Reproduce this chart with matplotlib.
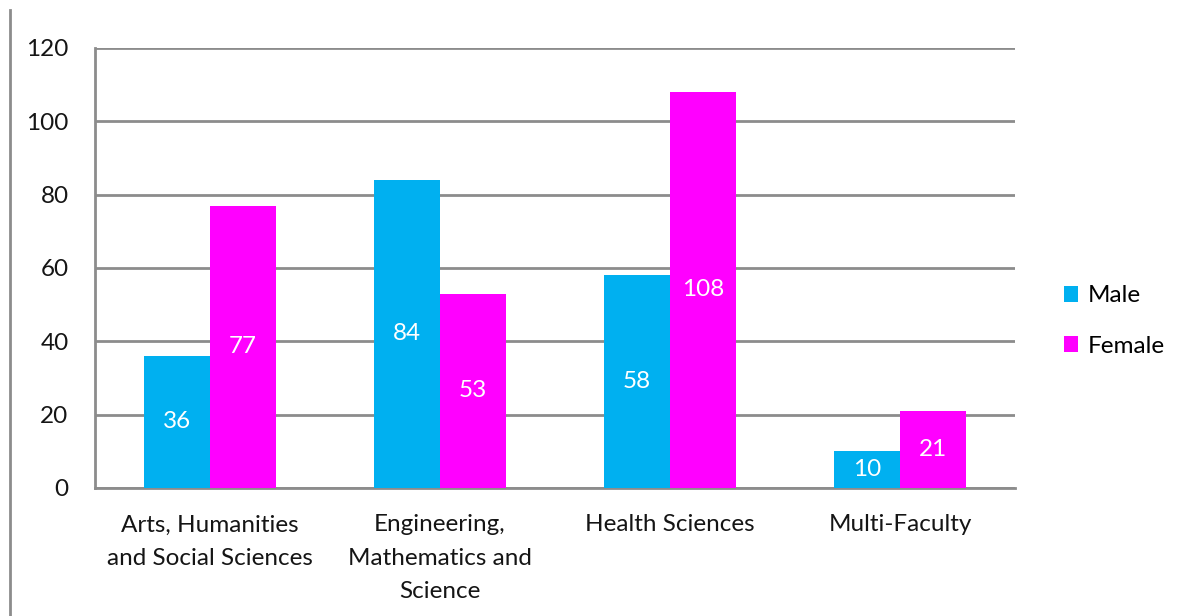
import numpy as np
import matplotlib.pyplot as plt
from matplotlib.lines import Line2D

categories = ["Arts, Humanities\nand Social Sciences",
              "Engineering,\nMathematics and\nScience",
              "Health Sciences",
              "Multi-Faculty"]
male = [36, 84, 58, 10]
female = [77, 53, 108, 21]
yticks = [0, 20, 40, 60, 80, 100, 120]

plt.rcParams["font.family"] = ["Lato", "DejaVu Sans"]

fig = plt.figure(figsize=(11.87, 6.16), dpi=100)
ax = fig.add_axes([95 / 1187, 1 - 488 / 616, 920 / 1187, 440 / 616])

x = np.arange(len(categories))
w = 0.287
blue = "#00B0F0"
pink = "#FF00FF"
fs = 17.5
bm = ax.bar(x - w / 2, male, w, color=blue, label="Male", zorder=3)
bf = ax.bar(x + w / 2, female, w, color=pink, label="Female", zorder=3)

for bars, vals in ((bm, male), (bf, female)):
    for b, v in zip(bars, vals):
        ax.text(b.get_x() + b.get_width() / 2, v / 2, str(v), ha="center",
                va="center", color="white", fontsize=fs, zorder=4)

ax.set_xlim(-0.5, len(categories) - 0.5)
ax.set_ylim(0, 120)
ax.set_yticks(yticks)
ax.yaxis.grid(True, color="#8c8c8c", linewidth=2, zorder=0)
ax.set_axisbelow(True)
for s in ("top", "right"):
    ax.spines[s].set_visible(False)
for s in ("left", "bottom"):
    ax.spines[s].set_color("#8c8c8c")
    ax.spines[s].set_linewidth(2)
ax.tick_params(axis="both", length=0, labelsize=fs, colors="#151515")
ax.tick_params(axis="y", pad=19)
ax.tick_params(axis="x", pad=19)
ax.set_xticks(x)
ax.set_xticklabels(categories, va="top", linespacing=1.72)

fig.legend(handles=[bm, bf], labels=["Male", "Female"], loc="center left",
           bbox_to_anchor=(1042 / 1187, 1 - 321 / 616), frameon=False,
           fontsize=fs, handlelength=0.6, handleheight=0.6, labelspacing=1.2,
           handletextpad=0.4)

fig.add_artist(Line2D([10 / 1187, 10 / 1187], [0, 1 - 10 / 616],
                      color="#8c8c8c", linewidth=2))

fig.savefig("out.png", dpi=100)
